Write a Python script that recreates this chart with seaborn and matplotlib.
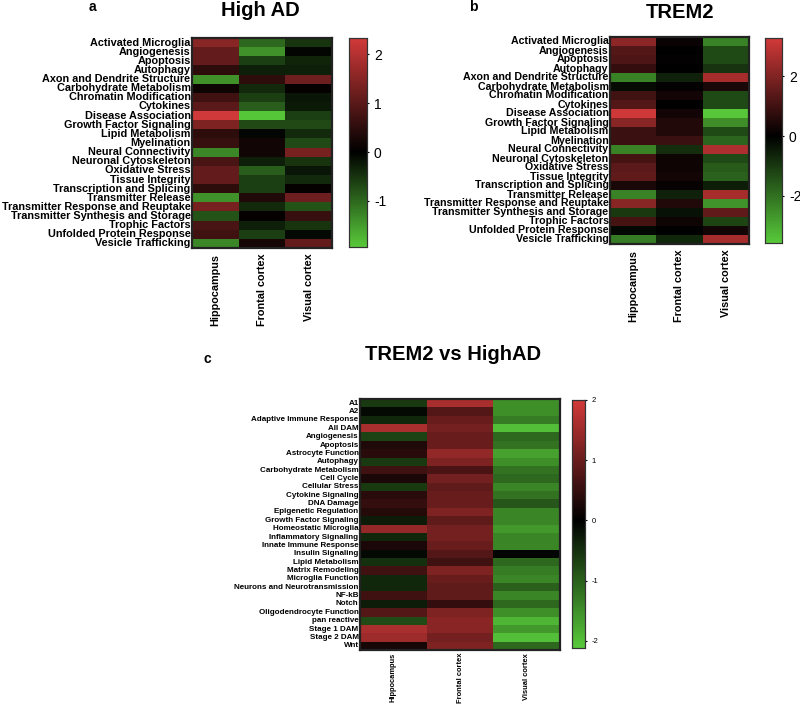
import numpy as np
import pandas as pd
import matplotlib
matplotlib.use("Agg")
import matplotlib.pyplot as plt
import seaborn as sns
from matplotlib.colors import LinearSegmentedColormap

sns.set_style("white")
plt.rcParams['font.family'] = ['Liberation Sans', 'DejaVu Sans']
plt.rcParams['text.color'] = 'black'
plt.rcParams['xtick.color'] = 'black'
plt.rcParams['ytick.color'] = 'black'

regions = ['Hippocampus', 'Frontal cortex', 'Visual cortex']

# panel a / b pathways
pathways_ab = ['Activated Microglia', 'Angiogenesis', 'Apoptosis', 'Autophagy',
               'Axon and Dendrite Structure', 'Carbohydrate Metabolism',
               'Chromatin Modification', 'Cytokines', 'Disease Association',
               'Growth Factor Signaling', 'Lipid Metabolism', 'Myelination',
               'Neural Connectivity', 'Neuronal Cytoskeleton', 'Oxidative Stress',
               'Tissue Integrity', 'Transcription and Splicing', 'Transmitter Release',
               'Transmitter Response and Reuptake', 'Transmitter Synthesis and Storage',
               'Trophic Factors', 'Unfolded Protein Response', 'Vesicle Trafficking']

highad_hip = [1.5, 1.1, 1.1, 0.5, -1.4, 0.15, 0.7, 1.0, 2.3, 1.4, 0.5, 0.6, -1.3,
              0.8, 1.1, 1.1, 0.5, -1.4, 1.3, -0.8, 0.8, 0.7, -1.3]
highad_fc = [-1.0, -1.4, -0.6, -0.3, 0.5, -0.4, -0.6, -0.9, -1.9, -0.7, -0.05, 0.2, 0.2,
             -0.3, -0.9, -0.6, -0.6, 0.35, -0.4, 0.05, -0.3, -0.6, 0.25]
highad_vc = [-0.5, -0.05, -0.35, -0.3, 1.2, 0.05, -0.2, -0.25, -0.6, -0.7, -0.4, -0.7, 1.3,
             -0.5, -0.2, -0.4, 0.05, 1.2, -0.8, 0.6, -0.5, -0.1, 1.1]

trem2_hip = [2.2, 1.3, 1.2, 0.8, -2.3, -0.2, 1.0, 1.3, 3.2, 2.1, 0.9, 0.9, -2.3,
             1.1, 1.4, 1.5, 0.4, -2.3, 2.1, -1.0, 1.1, -0.15, -2.2]
trem2_fc = [0.15, 0.0, 0.05, 0.0, -0.6, 0.05, 0.3, 0.0, 0.3, 0.5, 0.5, 0.9, -0.8,
            0.2, 0.25, 0.3, 0.1, -0.6, 0.5, -0.3, 0.2, 0.0, -0.7]
trem2_vc = [-2.3, -1.3, -1.3, -0.9, 2.6, 0.4, -1.3, -1.3, -3.5, -2.5, -1.3, -1.8, 2.7,
            -1.3, -1.6, -1.7, -0.5, 2.6, -2.6, 1.5, -1.2, 0.3, 2.6]

# panel c pathways
pathways_c = ['A1', 'A2', 'Adaptive Immune Response', 'All DAM', 'Angiogenesis',
              'Apoptosis', 'Astrocyte Function', 'Autophagy', 'Carbohydrate Metabolism',
              'Cell Cycle', 'Cellular Stress', 'Cytokine Signaling', 'DNA Damage',
              'Epigenetic Regulation', 'Growth Factor Signaling', 'Homeostatic Microglia',
              'Inflammatory Signaling', 'Innate Immune Response', 'Insulin Signaling',
              'Lipid Metabolism', 'Matrix Remodeling', 'Microglia Function',
              'Neurons and Neurotransmission', 'NF-kB', 'Notch', 'Oligodendrocyte Function',
              'pan reactive', 'Stage 1 DAM', 'Stage 2 DAM', 'Wnt']

vs_hip = [-0.6, -0.1, -0.4, 1.6, -0.7, 0.3, 0.4, -0.6, 0.6, 0.25, -0.6, 0.4, 0.5, 0.35,
          -0.3, 1.4, -0.4, 0.25, -0.1, -0.5, 0.6, -0.4, -0.4, 0.6, -0.3, 0.8, -0.8,
          1.6, 1.5, 0.2]
vs_fc = [1.6, 0.8, 1.0, 1.1, 1.0, 1.0, 1.4, 1.2, 0.7, 1.1, 0.9, 1.0, 1.0, 1.2, 0.9,
         1.1, 1.1, 1.0, 0.8, 0.6, 1.2, 1.0, 0.9, 0.9, 0.5, 1.2, 1.3, 1.3, 1.1, 1.2]
vs_vc = [-1.5, -1.5, -1.3, -2.0, -1.1, -1.2, -1.7, -1.5, -1.2, -1.1, -1.4, -1.2, -0.9,
         -1.4, -1.4, -1.6, -1.4, -1.4, -0.05, -1.1, -1.3, -1.4, -1.0, -1.4, -1.1, -1.5,
         -1.9, -1.6, -2.0, -1.1]

GREEN = '#58c93a'
RED = '#d23939'


def gkr_cmap(vmin, vmax):
    z = (0 - vmin) / (vmax - vmin)
    return LinearSegmentedColormap.from_list(
        'gkr', [(0, GREEN), (z, '#000000'), (1, RED)])


def draw(df, rect, cbar_rect, vmin, vmax, ticks, ylab_size, xlab_size, cb_size, xpad):
    ax = fig.add_axes(rect)
    cax = fig.add_axes(cbar_rect)
    sns.heatmap(df, ax=ax, cbar_ax=cax, cmap=gkr_cmap(vmin, vmax),
                vmin=vmin, vmax=vmax, linewidths=0)
    for s in ax.spines.values():
        s.set_visible(True)
        s.set_linewidth(1.6)
        s.set_color('#222222')
    ax.tick_params(length=0, pad=1)
    ax.set_yticks(np.arange(len(df.index)) + 0.5)
    ax.set_yticklabels(df.index, fontsize=ylab_size, fontweight='bold', rotation=0)
    ax.set_xticklabels(df.columns, fontsize=xlab_size, fontweight='bold', rotation=90)
    ax.tick_params(axis='x', pad=xpad)
    ax.set_xlabel('')
    ax.set_ylabel('')
    cax.set_yticks(ticks)
    cax.set_yticklabels([str(t) for t in ticks])
    cax.tick_params(labelsize=cb_size, length=3, direction='inout', width=0.8)
    for s in cax.spines.values():
        s.set_visible(True)
        s.set_linewidth(0.8)
        s.set_color('#333333')
    return ax


fig = plt.figure(figsize=(8, 7.07), dpi=100)

df_a = pd.DataFrame({'Hippocampus': highad_hip, 'Frontal cortex': highad_fc,
                     'Visual cortex': highad_vc}, index=pathways_ab)
df_b = pd.DataFrame({'Hippocampus': trem2_hip, 'Frontal cortex': trem2_fc,
                     'Visual cortex': trem2_vc}, index=pathways_ab)
df_c = pd.DataFrame({'Hippocampus': vs_hip, 'Frontal cortex': vs_fc,
                     'Visual cortex': vs_vc}, index=pathways_c)

W, H = 800, 707


def r(x0, y0, x1, y1):
    return [x0 / W, 1 - y1 / H, (x1 - x0) / W, (y1 - y0) / H]


draw(df_a, r(192, 38, 332, 248), r(349, 38, 367, 247), -1.94, 2.33,
     [-1, 0, 1, 2], 7.8, 7.8, 10, 4)
draw(df_b, r(610, 37, 749, 244), r(765, 38, 782, 243), -3.57, 3.27,
     [-2, 0, 2], 7.7, 7.8, 10, 4)
draw(df_c, r(360, 399, 560, 650), r(572, 400, 585, 648), -2.12, 2.0,
     [-2, -1, 0, 1, 2], 5.8, 5.4, 5.5, 2)

fig.text(260 / W, 1 - 11 / H, 'High AD', fontsize=14.5, fontweight='bold', ha='center', va='center')
fig.text(92 / W, 1 - 7 / H, 'a', fontsize=10, fontweight='bold', ha='center', va='center')
fig.text(680 / W, 1 - 12 / H, 'TREM2', fontsize=14.5, fontweight='bold', ha='center', va='center')
fig.text(473 / W, 1 - 7 / H, 'b', fontsize=10, fontweight='bold', ha='center', va='center')
fig.text(453 / W, 1 - 354 / H, 'TREM2 vs HighAD', fontsize=14.5, fontweight='bold', ha='center', va='center')
fig.text(207 / W, 1 - 359 / H, 'c', fontsize=10, fontweight='bold', ha='center', va='center')

fig.savefig('out.png', dpi=100)
